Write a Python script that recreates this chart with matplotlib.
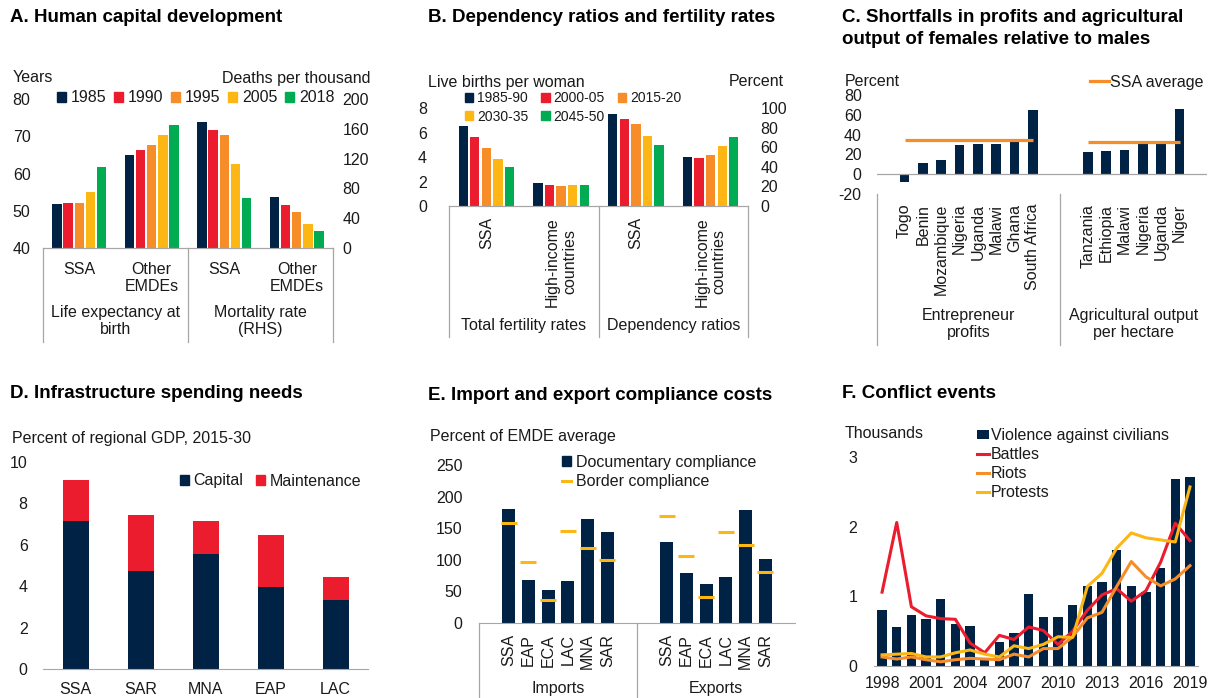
import matplotlib
matplotlib.use("Agg")
import matplotlib.pyplot as plt
import matplotlib.transforms as mtransforms
from matplotlib.patches import Patch
from matplotlib.lines import Line2D

plt.rcParams['font.family'] = ['Liberation Sans', 'DejaVu Sans']
plt.rcParams['font.size'] = 11.5
plt.rcParams['axes.unicode_minus'] = False
plt.rcParams['text.color'] = '#1a1a1a'
plt.rcParams['xtick.color'] = '#1a1a1a'
plt.rcParams['ytick.color'] = '#1a1a1a'

NAVY = '#002345'
RED = '#EB1C2D'
ORANGE = '#F78D28'
YELLOW = '#FDB714'
GREEN = '#00AB51'
GRID = '#A6A6A6'

# A. Human capital development
a_years = ['1985', '1990', '1995', '2005', '2018']
a_life_ssa = [51.8, 52.2, 52.2, 54.9, 61.8]
a_life_emde = [65.0, 66.3, 67.6, 70.4, 73.1]
a_mort_ssa = [168.5, 157.8, 151.9, 112.8, 67.0]
a_mort_emde = [68.3, 57.1, 48.1, 32.4, 22.5]

# B. Dependency ratios and fertility rates
b_periods = ['1985-90', '2000-05', '2015-20', '2030-35', '2045-50']
b_tfr_ssa = [6.53, 5.66, 4.73, 3.80, 3.17]
b_tfr_hic = [1.86, 1.69, 1.67, 1.69, 1.69]
b_dep_ssa = [94.2, 89.1, 83.6, 71.7, 62.5]
b_dep_hic = [50.2, 49.1, 52.2, 61.4, 70.6]

# C. Shortfalls of females relative to males
c_ent_names = ['Togo', 'Benin', 'Mozambique', 'Nigeria', 'Uganda', 'Malawi', 'Ghana', 'South Africa']
c_ent_vals = [-7.4, 11.7, 14.7, 29.8, 30.4, 30.4, 34.4, 64.5]
c_ent_avg = 34.1
c_agr_names = ['Tanzania', 'Ethiopia', 'Malawi', 'Nigeria', 'Uganda', 'Niger']
c_agr_vals = [22.7, 23.7, 24.4, 31.4, 31.4, 65.6]
c_agr_avg = 32.8

# D. Infrastructure spending needs
d_regions = ['SSA', 'SAR', 'MNA', 'EAP', 'LAC']
d_capital = [7.15, 4.75, 5.55, 3.95, 3.35]
d_maint = [2.0, 2.7, 1.6, 2.5, 1.1]

# E. Import and export compliance costs
e_regions = ['SSA', 'EAP', 'ECA', 'LAC', 'MNA', 'SAR']
e_imp_doc = [180.8, 67.7, 51.8, 66.6, 164.9, 143.8]
e_imp_border = [159.0, 97.3, 35.9, 145.3, 118.9, 99.4]
e_exp_doc = [127.4, 79.8, 62.4, 73.5, 178.1, 101.5]
e_exp_border = [168.6, 106.2, 40.7, 143.8, 123.7, 80.9]

# F. Conflict events (thousands)
f_years = list(range(1998, 2020))
f_violence = [0.80, 0.56, 0.73, 0.68, 0.96, 0.61, 0.57, 0.12, 0.34, 0.47, 1.04, 0.70,
              0.70, 0.87, 1.15, 1.20, 1.67, 1.15, 1.06, 1.40, 2.68, 2.72]
f_battles = [1.06, 2.06, 0.85, 0.72, 0.68, 0.67, 0.33, 0.19, 0.44, 0.38, 0.56, 0.51,
             0.31, 0.50, 0.80, 1.02, 1.11, 0.93, 1.08, 1.49, 2.05, 1.80]
f_riots = [0.13, 0.10, 0.13, 0.09, 0.06, 0.09, 0.11, 0.10, 0.09, 0.17, 0.13, 0.25,
           0.25, 0.42, 0.69, 0.77, 1.14, 1.50, 1.28, 1.15, 1.25, 1.44]
f_protests = [0.16, 0.17, 0.18, 0.13, 0.13, 0.19, 0.23, 0.17, 0.13, 0.29, 0.25, 0.31,
              0.42, 0.41, 1.14, 1.33, 1.69, 1.91, 1.84, 1.81, 1.78, 2.57]

W, H = 1209, 698
fig = plt.figure(figsize=(W / 100, H / 100), dpi=100)


def add_ax(x0, y0, x1, y1):
    return fig.add_axes([x0 / W, 1 - y1 / H, (x1 - x0) / W, (y1 - y0) / H])


def clean(ax, bottom=True):
    for s in ['top', 'left', 'right']:
        ax.spines[s].set_visible(False)
    ax.spines['bottom'].set_visible(bottom)
    ax.spines['bottom'].set_color(GRID)
    ax.tick_params(length=0)


def ftext(x, y, s, **kw):
    fig.text(x / W, 1 - y / H, s, **kw)


def sep(ax, x, depth_px, h_px):
    tr = mtransforms.blended_transform_factory(ax.transData, ax.transAxes)
    ax.plot([x, x], [0, -depth_px / h_px], transform=tr, color=GRID, lw=0.9, clip_on=False)


def group_label(ax, x, top_px, h_px, s):
    tr = mtransforms.blended_transform_factory(ax.transData, ax.transAxes)
    ax.text(x, -top_px / h_px, s, transform=tr, ha='center', va='top', linespacing=1.2)


def fig_legend(ax, handles, labels, x, y, **kw):
    opts = dict(loc='center left', bbox_to_anchor=(x / W, 1 - y / H), bbox_transform=fig.transFigure,
                frameon=False, borderpad=0, borderaxespad=0, handletextpad=0.3,
                handlelength=0.55, handleheight=0.55)
    opts.update(kw)
    return ax.legend(handles, labels, **opts)


title_kw = dict(fontsize=13.5, fontweight='bold', color='black', va='center')

# ---------------- Panel A ----------------
ftext(10, 18, 'A. Human capital development', **title_kw)
axA = add_ax(43, 99, 333, 248)
axA2 = axA.twinx()
hA = 149
colsA = [NAVY, RED, ORANGE, YELLOW, GREEN]
for i in range(5):
    off = (i - 2) * 0.154
    axA.bar([0 + off, 1 + off], [a_life_ssa[i] - 40, a_life_emde[i] - 40], bottom=40,
            width=0.128, color=colsA[i])
    axA2.bar([2 + off, 3 + off], [a_mort_ssa[i], a_mort_emde[i]], width=0.128, color=colsA[i])
axA.set_xlim(-0.5, 3.5)
axA.set_ylim(40, 80)
axA.set_yticks(range(40, 81, 10))
axA2.set_ylim(0, 200)
axA2.set_yticks(range(0, 201, 40))
clean(axA)
clean(axA2)
axA.tick_params(axis='y', pad=9)
axA2.tick_params(axis='y', pad=7)
axA.set_xticks([0, 1, 2, 3], ['SSA', 'Other\nEMDEs', 'SSA', 'Other\nEMDEs'])
axA.tick_params(axis='x', pad=10)
for x in [-0.5, 1.5, 3.5]:
    sep(axA2, x, 94, hA)
group_label(axA2, 0.5, 57, hA, 'Life expectancy at\nbirth')
group_label(axA2, 2.5, 57, hA, 'Mortality rate\n(RHS)')
ftext(13, 78, 'Years', va='center')
ftext(371, 78, 'Deaths per thousand', va='center', ha='right')
fig_legend(axA2, [Patch(color=c) for c in colsA], a_years, 57, 98, ncol=5, columnspacing=0.5)

# ---------------- Panel B ----------------
ftext(428, 18, 'B. Dependency ratios and fertility rates', **title_kw)
axB = add_ax(449, 108, 748, 206)
axB2 = axB.twinx()
hB = 98
for i in range(5):
    off = (i - 2) * 0.155
    axB.bar([0 + off, 1 + off], [b_tfr_ssa[i], b_tfr_hic[i]], width=0.125, color=colsA[i])
    axB2.bar([2 + off, 3 + off], [b_dep_ssa[i], b_dep_hic[i]], width=0.125, color=colsA[i])
axB.set_xlim(-0.5, 3.5)
axB.set_ylim(0, 8)
axB.set_yticks(range(0, 9, 2))
axB2.set_ylim(0, 100)
axB2.set_yticks(range(0, 101, 20))
clean(axB)
clean(axB2)
axB.tick_params(axis='y', pad=16)
axB2.tick_params(axis='y', pad=9)
axB.set_xticks([0, 1, 2, 3], ['SSA', 'High-income\ncountries', 'SSA', 'High-income\ncountries'],
               rotation=90, multialignment='center')
axB.tick_params(axis='x', pad=8)
for x in [-0.5, 1.5, 3.5]:
    sep(axB2, x, 131, hB)
group_label(axB2, 0.5, 112, hB, 'Total fertility rates')
group_label(axB2, 2.5, 112, hB, 'Dependency ratios')
ftext(428, 82, 'Live births per woman', va='center')
ftext(784, 82, 'Percent', va='center', ha='right')
orderB = [0, 3, 1, 4, 2]
fig_legend(axB2, [Patch(color=colsA[k]) for k in orderB], [b_periods[k] for k in orderB],
           465, 107.5, ncol=3, columnspacing=0.9, labelspacing=0.3, fontsize=10,
           handlelength=0.6, handleheight=0.6)

# ---------------- Panel C ----------------
ftext(842, 18, 'C. Shortfalls in profits and agricultural', **title_kw)
ftext(842, 40, 'output of females relative to males', **title_kw)
axC = add_ax(877, 95, 1207, 194)
hC = 99
x_ent = list(range(1, 1 + len(c_ent_names)))
x_agr = list(range(11, 11 + len(c_agr_names)))
axC.bar(x_ent, c_ent_vals, width=0.52, color=NAVY)
axC.bar(x_agr, c_agr_vals, width=0.52, color=NAVY)
axC.plot(x_ent, [c_ent_avg] * len(x_ent), color=ORANGE, lw=2.3, solid_capstyle='butt')
axC.plot(x_agr, [c_agr_avg] * len(x_agr), color=ORANGE, lw=2.3, solid_capstyle='butt')
axC.axhline(0, color=GRID, lw=0.9)
axC.set_xlim(-0.5, 17.5)
axC.set_ylim(-20, 80)
axC.set_yticks(range(-20, 81, 20))
clean(axC, bottom=False)
axC.tick_params(axis='y', pad=11)
axC.set_xticks(x_ent + x_agr, c_ent_names + c_agr_names, rotation=90)
axC.tick_params(axis='x', pad=7)
for x in [-0.5, 9.5]:
    sep(axC, x, 151, hC)
group_label(axC, 4.5, 114, hC, 'Entrepreneur\nprofits')
group_label(axC, 13.5, 114, hC, 'Agricultural output\nper hectare')
ftext(845, 81, 'Percent', va='center')
fig_legend(axC, [Line2D([], [], color=ORANGE, lw=2.3)], ['SSA average'], 1090, 82,
           handlelength=1.2, handletextpad=0.05)

# ---------------- Panel D ----------------
ftext(10, 393, 'D. Infrastructure spending needs', **title_kw)
axD = add_ax(43, 462, 368, 669)
xD = range(len(d_regions))
axD.bar(xD, d_capital, width=0.4, color=NAVY)
axD.bar(xD, d_maint, bottom=d_capital, width=0.4, color=RED)
axD.set_xlim(-0.5, 4.5)
axD.set_ylim(0, 10)
axD.set_yticks(range(0, 11, 2))
clean(axD)
axD.tick_params(axis='y', pad=11)
axD.set_xticks(list(xD), d_regions)
axD.tick_params(axis='x', pad=9)
ftext(12, 439, 'Percent of regional GDP, 2015-30', va='center')
fig_legend(axD, [Patch(color=NAVY), Patch(color=RED)], ['Capital', 'Maintenance'], 180, 481,
           ncol=2, columnspacing=0.8)

# ---------------- Panel E ----------------
ftext(428, 395, 'E. Import and export compliance costs', **title_kw)
axE = add_ax(479, 465, 795, 623)
hE = 158
x_imp = list(range(1, 7))
x_exp = list(range(9, 15))
axE.bar(x_imp, e_imp_doc, width=0.65, color=NAVY)
axE.bar(x_exp, e_exp_doc, width=0.65, color=NAVY)
axE.plot(x_imp, e_imp_border, ls='none', marker='_', ms=12, mew=2.2, color=YELLOW)
axE.plot(x_exp, e_exp_border, ls='none', marker='_', ms=12, mew=2.2, color=YELLOW)
axE.set_xlim(-0.5, 15.5)
axE.set_ylim(0, 250)
axE.set_yticks(range(0, 251, 50))
clean(axE)
axE.tick_params(axis='y', pad=12)
axE.set_xticks(x_imp + x_exp, e_regions + e_regions, rotation=90)
axE.tick_params(axis='x', pad=8)
for x in [-0.5, 7.5]:
    sep(axE, x, 80, hE)
group_label(axE, 3.5, 58, hE, 'Imports')
group_label(axE, 11.5, 58, hE, 'Exports')
ftext(430, 436, 'Percent of EMDE average', va='center')
fig_legend(axE, [Patch(color=NAVY), Line2D([], [], color=YELLOW, lw=2.2)],
           ['Documentary compliance', 'Border compliance'], 562, 472, labelspacing=0.3)

# ---------------- Panel F ----------------
ftext(842, 393, 'F. Conflict events', **title_kw)
axF = add_ax(874, 457, 1198, 666)
axF.bar(f_years, f_violence, width=0.63, color=NAVY, label='Violence against civilians')
axF.plot(f_years, f_battles, color=RED, lw=2.2, label='Battles')
axF.plot(f_years, f_riots, color=ORANGE, lw=2.2, label='Riots')
axF.plot(f_years, f_protests, color=YELLOW, lw=2.2, label='Protests')
axF.set_xlim(1997.45, 2019.55)
axF.set_ylim(0, 3)
axF.set_yticks([0, 1, 2, 3])
axF.set_xticks(range(1998, 2020, 3))
clean(axF)
axF.tick_params(axis='y', pad=12)
axF.tick_params(axis='x', pad=7)
ftext(845, 434, 'Thousands', va='center')
hF, lF = axF.get_legend_handles_labels()
orderF = [3, 0, 1, 2]
fig_legend(axF, [hF[k] for k in orderF], [lF[k] for k in orderF], 977, 464,
           labelspacing=0.25, handlelength=0.75, handletextpad=0.1)

fig.savefig('out.png', dpi=100, facecolor='white')
